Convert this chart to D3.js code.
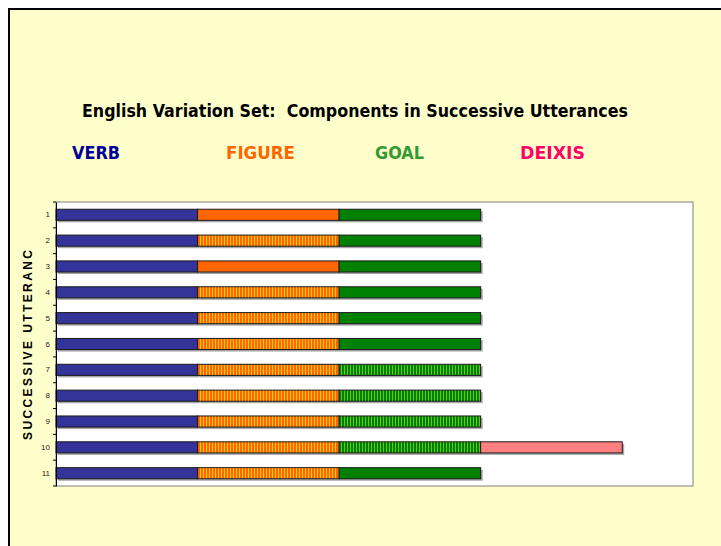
<!DOCTYPE html>
<html>
<head>
<meta charset="utf-8">
<script src="https://cdn.jsdelivr.net/npm/d3@7"></script>
<style>
  body { margin: 0; background: #fff; }
</style>
</head>
<body>
<div id="chart"></div>
<script>
const w = 721;
const h = 546;

// data
const utterances = ['1', '2', '3', '4', '5', '6', '7', '8', '9', '10', '11'];
const verb   = [1, 1, 1, 1, 1, 1, 1, 1, 1, 1, 1];
const figure = [1, 1, 1, 1, 1, 1, 1, 1, 1, 1, 1];
const goal   = [1, 1, 1, 1, 1, 1, 1, 1, 1, 1, 1];
const deixis = [0, 0, 0, 0, 0, 0, 0, 0, 0, 1, 0];
// which segments are drawn hatched instead of solid
const figureHatched = [false, true, false, true, true, true, true, true, true, true, true];
const goalHatched   = [false, false, false, false, false, false, true, true, true, true, false];
const components = ['VERB', 'FIGURE', 'GOAL', 'DEIXIS'];
const legendColors = ['#000099', '#FF6600', '#339933', '#FF0066'];

const plotL = 56, plotR = 693, plotT = 202, plotB = 486;

const svg = d3.select('#chart')
  .append('svg')
  .attr('width', w)
  .attr('height', h);

// slide background and border
svg.append('rect').attr('x', 8).attr('y', 8).attr('width', w - 8).attr('height', h - 8)
  .attr('fill', '#FFFFCC');
svg.append('path').attr('d', 'M9,' + h + 'V9H' + w)
  .attr('fill', 'none').attr('stroke', '#000').attr('stroke-width', 2);

const defs = svg.append('defs');
function stripes(id, base, line) {
  const p = defs.append('pattern').attr('id', id)
    .attr('patternUnits', 'userSpaceOnUse').attr('width', 3).attr('height', 10);
  p.append('rect').attr('width', 3).attr('height', 10).attr('fill', base);
  p.append('rect').attr('x', 2).attr('width', 1).attr('height', 10).attr('fill', line);
}
stripes('figStripe', '#FF6600', '#FFCC00');
stripes('goalStripe', '#008000', '#66CC00');

// title (Tahoma-like: DejaVu Sans squeezed)
svg.append('text')
  .attr('x', 82).attr('y', 117)
  .attr('font-family', 'DejaVu Sans, Verdana, sans-serif')
  .attr('font-weight', 'bold').attr('font-size', '17px')
  .attr('textLength', 546).attr('lengthAdjust', 'spacingAndGlyphs')
  .style('white-space', 'pre')
  .text('English Variation Set:  Components in Successive Utterances');

// legend-like labels
const legendX = [72, 226, 375, 520];
const legendW = [48, 69, 49, 65];
svg.selectAll('.legend')
  .data(components)
  .enter()
  .append('text')
  .attr('class', 'legend')
  .attr('x', (d, i) => legendX[i])
  .attr('y', 159)
  .attr('font-family', 'DejaVu Sans, Verdana, sans-serif')
  .attr('font-weight', 'bold').attr('font-size', '17px')
  .attr('textLength', (d, i) => legendW[i]).attr('lengthAdjust', 'spacingAndGlyphs')
  .attr('fill', (d, i) => legendColors[i])
  .text(d => d);

// plot area
svg.append('rect')
  .attr('x', plotL).attr('y', plotT)
  .attr('width', plotR - plotL).attr('height', plotB - plotT)
  .attr('fill', '#fff').attr('stroke', '#808080').attr('stroke-width', 1);

const xScale = d3.scaleLinear().domain([0, 4.5]).range([plotL, plotR]);
const yScale = d3.scaleBand().domain(utterances).range([plotT, plotB]).paddingInner(0.57).paddingOuter(0.28);

// build stacked segments
const rows = utterances.map((u, i) => ({
  u: u,
  parts: [
    { v: verb[i], fill: '#333399' },
    { v: figure[i], fill: figureHatched[i] ? 'url(#figStripe)' : '#FF6600' },
    { v: goal[i], fill: goalHatched[i] ? 'url(#goalStripe)' : '#008000' },
    { v: deixis[i], fill: '#FF8080' }
  ]
}));
const segs = [];
rows.forEach(r => {
  let x0 = 0;
  r.parts.forEach(p => {
    if (p.v > 0) segs.push({ u: r.u, x0: x0, x1: x0 + p.v, fill: p.fill });
    x0 += p.v;
  });
});

// shadows
svg.selectAll('.shadow')
  .data(segs)
  .enter()
  .append('rect')
  .attr('class', 'shadow')
  .attr('x', d => xScale(d.x0) + 2)
  .attr('y', d => yScale(d.u) + 2)
  .attr('width', d => xScale(d.x1) - xScale(d.x0))
  .attr('height', yScale.bandwidth())
  .attr('fill', '#a8a8a8');

svg.selectAll('.seg')
  .data(segs)
  .enter()
  .append('rect')
  .attr('class', 'seg')
  .attr('x', d => xScale(d.x0))
  .attr('y', d => yScale(d.u))
  .attr('width', d => xScale(d.x1) - xScale(d.x0))
  .attr('height', yScale.bandwidth())
  .attr('fill', d => d.fill)
  .attr('stroke', '#1a1a1a').attr('stroke-width', 1);

// y axis
const yAxis = d3.axisLeft(yScale).tickSize(0).tickPadding(6);
const gy = svg.append('g')
  .attr('transform', 'translate(' + plotL + ',0)')
  .call(yAxis);
gy.select('.domain').attr('stroke', '#000');
gy.selectAll('text')
  .attr('font-family', 'Liberation Sans, Arial, sans-serif')
  .attr('font-size', '8px').attr('fill', '#222');

// tick marks between categories
const boundaries = d3.range(utterances.length + 1).map(i => plotT + i * (plotB - plotT) / utterances.length);
svg.selectAll('.ytick')
  .data(boundaries)
  .enter()
  .append('line')
  .attr('class', 'ytick')
  .attr('x1', plotL - 3).attr('x2', plotL)
  .attr('y1', d => d).attr('y2', d => d)
  .attr('stroke', '#000');

// y title
svg.append('text')
  .attr('transform', 'translate(32,345) rotate(-90)')
  .attr('text-anchor', 'middle')
  .attr('font-family', 'Liberation Sans, Arial, sans-serif')
  .attr('font-weight', 'bold').attr('font-size', '12px')
  .attr('textLength', 190).attr('lengthAdjust', 'spacing')
  .text('SUCCESSIVE UTTERANC');
</script>
</body>
</html>
